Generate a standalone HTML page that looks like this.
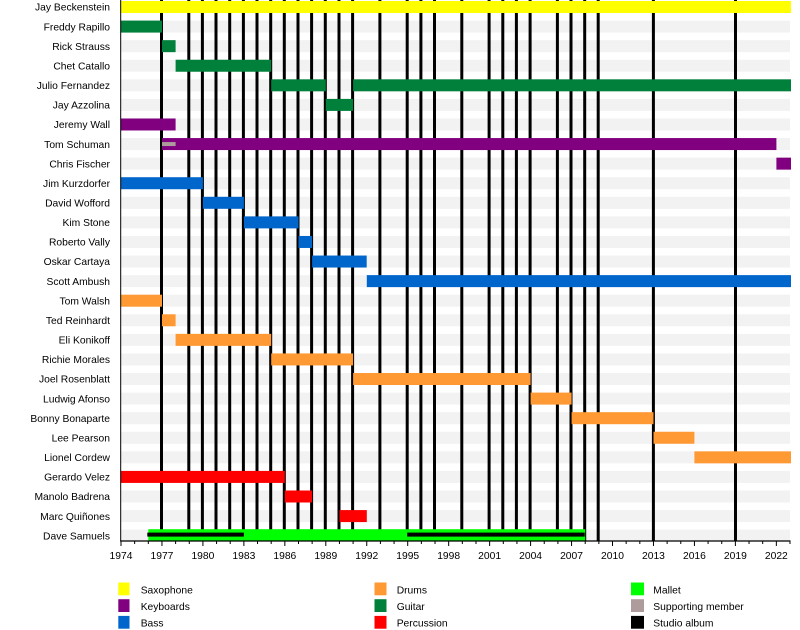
<!DOCTYPE html>
<html><head><meta charset="utf-8"><style>
html,body{margin:0;padding:0;background:#fff;}
svg{display:block;}
text{font-family:"Liberation Sans",Arial,sans-serif;font-size:10.3px;fill:#000;}
</style></head><body>
<svg width="800" height="630" viewBox="0 0 800 630" xmlns="http://www.w3.org/2000/svg">
<rect width="800" height="630" fill="#fff"/>
<!-- stripes -->
<g fill="#f2f2f2">
<rect x="121" y="1" width="669" height="12"/>
<rect x="121" y="20.58" width="669" height="12"/>
<rect x="121" y="40.16" width="669" height="12"/>
<rect x="121" y="59.74" width="669" height="12"/>
<rect x="121" y="79.32" width="669" height="12"/>
<rect x="121" y="98.9" width="669" height="12"/>
<rect x="121" y="118.48" width="669" height="12"/>
<rect x="121" y="138.06" width="669" height="12"/>
<rect x="121" y="157.64" width="669" height="12"/>
<rect x="121" y="177.22" width="669" height="12"/>
<rect x="121" y="196.8" width="669" height="12"/>
<rect x="121" y="216.38" width="669" height="12"/>
<rect x="121" y="235.96" width="669" height="12"/>
<rect x="121" y="255.54" width="669" height="12"/>
<rect x="121" y="275.12" width="669" height="12"/>
<rect x="121" y="294.7" width="669" height="12"/>
<rect x="121" y="314.28" width="669" height="12"/>
<rect x="121" y="333.86" width="669" height="12"/>
<rect x="121" y="353.44" width="669" height="12"/>
<rect x="121" y="373.02" width="669" height="12"/>
<rect x="121" y="392.6" width="669" height="12"/>
<rect x="121" y="412.18" width="669" height="12"/>
<rect x="121" y="431.76" width="669" height="12"/>
<rect x="121" y="451.34" width="669" height="12"/>
<rect x="121" y="470.92" width="669" height="12"/>
<rect x="121" y="490.5" width="669" height="12"/>
<rect x="121" y="510.08" width="669" height="12"/>
<rect x="121" y="529.66" width="669" height="12"/>
</g>
<!-- studio album lines -->
<g stroke="#000" stroke-width="3">
<line x1="161.5" y1="0" x2="161.5" y2="541"/>
<line x1="188.8" y1="0" x2="188.8" y2="541"/>
<line x1="202.4" y1="0" x2="202.4" y2="541"/>
<line x1="216" y1="0" x2="216" y2="541"/>
<line x1="229.7" y1="0" x2="229.7" y2="541"/>
<line x1="243.4" y1="0" x2="243.4" y2="541"/>
<line x1="257" y1="0" x2="257" y2="541"/>
<line x1="270.7" y1="0" x2="270.7" y2="541"/>
<line x1="284.3" y1="0" x2="284.3" y2="541"/>
<line x1="298" y1="0" x2="298" y2="541"/>
<line x1="311.6" y1="0" x2="311.6" y2="541"/>
<line x1="325.3" y1="0" x2="325.3" y2="541"/>
<line x1="339" y1="0" x2="339" y2="541"/>
<line x1="352.6" y1="0" x2="352.6" y2="541"/>
<line x1="379.9" y1="0" x2="379.9" y2="541"/>
<line x1="407.2" y1="0" x2="407.2" y2="541"/>
<line x1="420.9" y1="0" x2="420.9" y2="541"/>
<line x1="434.5" y1="0" x2="434.5" y2="541"/>
<line x1="461.8" y1="0" x2="461.8" y2="541"/>
<line x1="489.1" y1="0" x2="489.1" y2="541"/>
<line x1="502.8" y1="0" x2="502.8" y2="541"/>
<line x1="516.4" y1="0" x2="516.4" y2="541"/>
<line x1="530.1" y1="0" x2="530.1" y2="541"/>
<line x1="557.4" y1="0" x2="557.4" y2="541"/>
<line x1="571" y1="0" x2="571" y2="541"/>
<line x1="584.7" y1="0" x2="584.7" y2="541"/>
<line x1="598.2" y1="0" x2="598.2" y2="541"/>
<line x1="653.4" y1="0" x2="653.4" y2="541"/>
<line x1="735.5" y1="0" x2="735.5" y2="541"/>
</g>
<!-- bars -->
<rect x="121" y="1" width="670" height="12" fill="#ffff00"/>
<g fill="#00803a">
<rect x="121" y="20.58" width="41" height="12"/>
<rect x="162" y="40.16" width="13.6" height="12"/>
<rect x="175.6" y="59.74" width="95.6" height="12"/>
<rect x="271.2" y="79.32" width="54.6" height="12"/>
<rect x="353.1" y="79.32" width="437.9" height="12"/>
<rect x="325.8" y="98.9" width="27.3" height="12"/>
</g>
<g fill="#800080">
<rect x="121" y="118.48" width="54.6" height="12"/>
<rect x="162" y="138.06" width="614.4" height="12"/>
<rect x="776.4" y="157.64" width="14.6" height="12"/>
</g>
<rect x="162" y="142.06" width="13.6" height="4" fill="#ae9c9c"/>
<g fill="#0066cc">
<rect x="121" y="177.22" width="81.9" height="12"/>
<rect x="202.9" y="196.8" width="41" height="12"/>
<rect x="243.9" y="216.38" width="54.6" height="12"/>
<rect x="298.5" y="235.96" width="13.6" height="12"/>
<rect x="312.1" y="255.54" width="54.6" height="12"/>
<rect x="366.8" y="275.12" width="424.2" height="12"/>
</g>
<g fill="#ff9933">
<rect x="121" y="294.7" width="41" height="12"/>
<rect x="162" y="314.28" width="13.6" height="12"/>
<rect x="175.6" y="333.86" width="95.6" height="12"/>
<rect x="271.2" y="353.44" width="81.9" height="12"/>
<rect x="353.1" y="373.02" width="177.5" height="12"/>
<rect x="530.6" y="392.6" width="41" height="12"/>
<rect x="571.6" y="412.18" width="81.9" height="12"/>
<rect x="653.5" y="431.76" width="40.9" height="12"/>
<rect x="694.4" y="451.34" width="96.6" height="12"/>
</g>
<g fill="#ff0000">
<rect x="121" y="470.92" width="163.8" height="12"/>
<rect x="284.8" y="490.5" width="27.3" height="12"/>
<rect x="339.5" y="510.08" width="27.3" height="12"/>
</g>
<rect x="148.3" y="529.2" width="436.9" height="11.5" fill="#00ff00"/>
<g fill="#000">
<rect x="147.3" y="532.6" width="96.6" height="4"/>
<rect x="407.2" y="532.6" width="177.5" height="4"/>
</g>
<!-- axes -->
<line x1="120.7" y1="0" x2="120.7" y2="541.5" stroke="#000" stroke-width="1"/>
<line x1="120.2" y1="541" x2="790.5" y2="541" stroke="#000" stroke-width="1.2"/>
<g stroke="#000" stroke-width="1">
<line x1="121" y1="541" x2="121" y2="546"/>
<line x1="134.65" y1="541" x2="134.65" y2="544"/>
<line x1="148.31" y1="541" x2="148.31" y2="544"/>
<line x1="161.96" y1="541" x2="161.96" y2="546"/>
<line x1="175.61" y1="541" x2="175.61" y2="544"/>
<line x1="189.27" y1="541" x2="189.27" y2="544"/>
<line x1="202.92" y1="541" x2="202.92" y2="546"/>
<line x1="216.57" y1="541" x2="216.57" y2="544"/>
<line x1="230.22" y1="541" x2="230.22" y2="544"/>
<line x1="243.88" y1="541" x2="243.88" y2="546"/>
<line x1="257.53" y1="541" x2="257.53" y2="544"/>
<line x1="271.18" y1="541" x2="271.18" y2="544"/>
<line x1="284.84" y1="541" x2="284.84" y2="546"/>
<line x1="298.49" y1="541" x2="298.49" y2="544"/>
<line x1="312.14" y1="541" x2="312.14" y2="544"/>
<line x1="325.8" y1="541" x2="325.8" y2="546"/>
<line x1="339.45" y1="541" x2="339.45" y2="544"/>
<line x1="353.1" y1="541" x2="353.1" y2="544"/>
<line x1="366.75" y1="541" x2="366.75" y2="546"/>
<line x1="380.41" y1="541" x2="380.41" y2="544"/>
<line x1="394.06" y1="541" x2="394.06" y2="544"/>
<line x1="407.71" y1="541" x2="407.71" y2="546"/>
<line x1="421.37" y1="541" x2="421.37" y2="544"/>
<line x1="435.02" y1="541" x2="435.02" y2="544"/>
<line x1="448.67" y1="541" x2="448.67" y2="546"/>
<line x1="462.33" y1="541" x2="462.33" y2="544"/>
<line x1="475.98" y1="541" x2="475.98" y2="544"/>
<line x1="489.63" y1="541" x2="489.63" y2="546"/>
<line x1="503.29" y1="541" x2="503.29" y2="544"/>
<line x1="516.94" y1="541" x2="516.94" y2="544"/>
<line x1="530.59" y1="541" x2="530.59" y2="546"/>
<line x1="544.24" y1="541" x2="544.24" y2="544"/>
<line x1="557.9" y1="541" x2="557.9" y2="544"/>
<line x1="571.55" y1="541" x2="571.55" y2="546"/>
<line x1="585.2" y1="541" x2="585.2" y2="544"/>
<line x1="598.86" y1="541" x2="598.86" y2="544"/>
<line x1="612.51" y1="541" x2="612.51" y2="546"/>
<line x1="626.16" y1="541" x2="626.16" y2="544"/>
<line x1="639.82" y1="541" x2="639.82" y2="544"/>
<line x1="653.47" y1="541" x2="653.47" y2="546"/>
<line x1="667.12" y1="541" x2="667.12" y2="544"/>
<line x1="680.78" y1="541" x2="680.78" y2="544"/>
<line x1="694.43" y1="541" x2="694.43" y2="546"/>
<line x1="708.08" y1="541" x2="708.08" y2="544"/>
<line x1="721.73" y1="541" x2="721.73" y2="544"/>
<line x1="735.39" y1="541" x2="735.39" y2="546"/>
<line x1="749.04" y1="541" x2="749.04" y2="544"/>
<line x1="762.69" y1="541" x2="762.69" y2="544"/>
<line x1="776.35" y1="541" x2="776.35" y2="546"/>
<line x1="790" y1="541" x2="790" y2="544"/>
</g>
<g text-anchor="middle">
<text x="121" y="559">1974</text>
<text x="161.96" y="559">1977</text>
<text x="202.92" y="559">1980</text>
<text x="243.88" y="559">1983</text>
<text x="284.84" y="559">1986</text>
<text x="325.8" y="559">1989</text>
<text x="366.75" y="559">1992</text>
<text x="407.71" y="559">1995</text>
<text x="448.67" y="559">1998</text>
<text x="489.63" y="559">2001</text>
<text x="530.59" y="559">2004</text>
<text x="571.55" y="559">2007</text>
<text x="612.51" y="559">2010</text>
<text x="653.47" y="559">2013</text>
<text x="694.43" y="559">2016</text>
<text x="735.39" y="559">2019</text>
<text x="776.35" y="559">2022</text>
</g>
<!-- names -->
<g text-anchor="end">
<text x="110" y="10.7">Jay Beckenstein</text>
<text x="110" y="30.3">Freddy Rapillo</text>
<text x="110" y="49.9">Rick Strauss</text>
<text x="110" y="69.4">Chet Catallo</text>
<text x="110" y="89">Julio Fernandez</text>
<text x="110" y="108.6">Jay Azzolina</text>
<text x="110" y="128.2">Jeremy Wall</text>
<text x="110" y="147.8">Tom Schuman</text>
<text x="110" y="167.3">Chris Fischer</text>
<text x="110" y="186.9">Jim Kurzdorfer</text>
<text x="110" y="206.5">David Wofford</text>
<text x="110" y="226.1">Kim Stone</text>
<text x="110" y="245.7">Roberto Vally</text>
<text x="110" y="265.2">Oskar Cartaya</text>
<text x="110" y="284.8">Scott Ambush</text>
<text x="110" y="304.4">Tom Walsh</text>
<text x="110" y="324">Ted Reinhardt</text>
<text x="110" y="343.6">Eli Konikoff</text>
<text x="110" y="363.1">Richie Morales</text>
<text x="110" y="382.7">Joel Rosenblatt</text>
<text x="110" y="402.3">Ludwig Afonso</text>
<text x="110" y="421.9">Bonny Bonaparte</text>
<text x="110" y="441.5">Lee Pearson</text>
<text x="110" y="461">Lionel Cordew</text>
<text x="110" y="480.6">Gerardo Velez</text>
<text x="110" y="500.2">Manolo Badrena</text>
<text x="110" y="519.8">Marc Quiñones</text>
<text x="110" y="539.4">Dave Samuels</text>
</g>
<!-- legend -->
<rect x="118.3" y="582.5" width="11.2" height="12.8" fill="#ffff00"/>
<rect x="118.3" y="599.2" width="11.2" height="12.8" fill="#800080"/>
<rect x="118.3" y="615.9" width="11.2" height="12.8" fill="#0066cc"/>
<text x="140.7" y="593.3">Saxophone</text>
<text x="140.7" y="610">Keyboards</text>
<text x="140.7" y="626.7">Bass</text>
<rect x="374.5" y="582.5" width="12" height="12.8" fill="#ff9933"/>
<rect x="374.5" y="599.2" width="12" height="12.8" fill="#00803a"/>
<rect x="374.5" y="615.9" width="12" height="12.8" fill="#ff0000"/>
<text x="396.7" y="593.3">Drums</text>
<text x="396.7" y="610">Guitar</text>
<text x="396.7" y="626.7">Percussion</text>
<rect x="631" y="582.5" width="13" height="12.8" fill="#00ff00"/>
<rect x="631" y="599.2" width="13" height="12.8" fill="#ae9c9c"/>
<rect x="631" y="615.9" width="13" height="12.8" fill="#000"/>
<text x="653.3" y="593.3">Mallet</text>
<text x="653.3" y="610">Supporting member</text>
<text x="653.3" y="626.7">Studio album</text>
</svg>
</body></html>
